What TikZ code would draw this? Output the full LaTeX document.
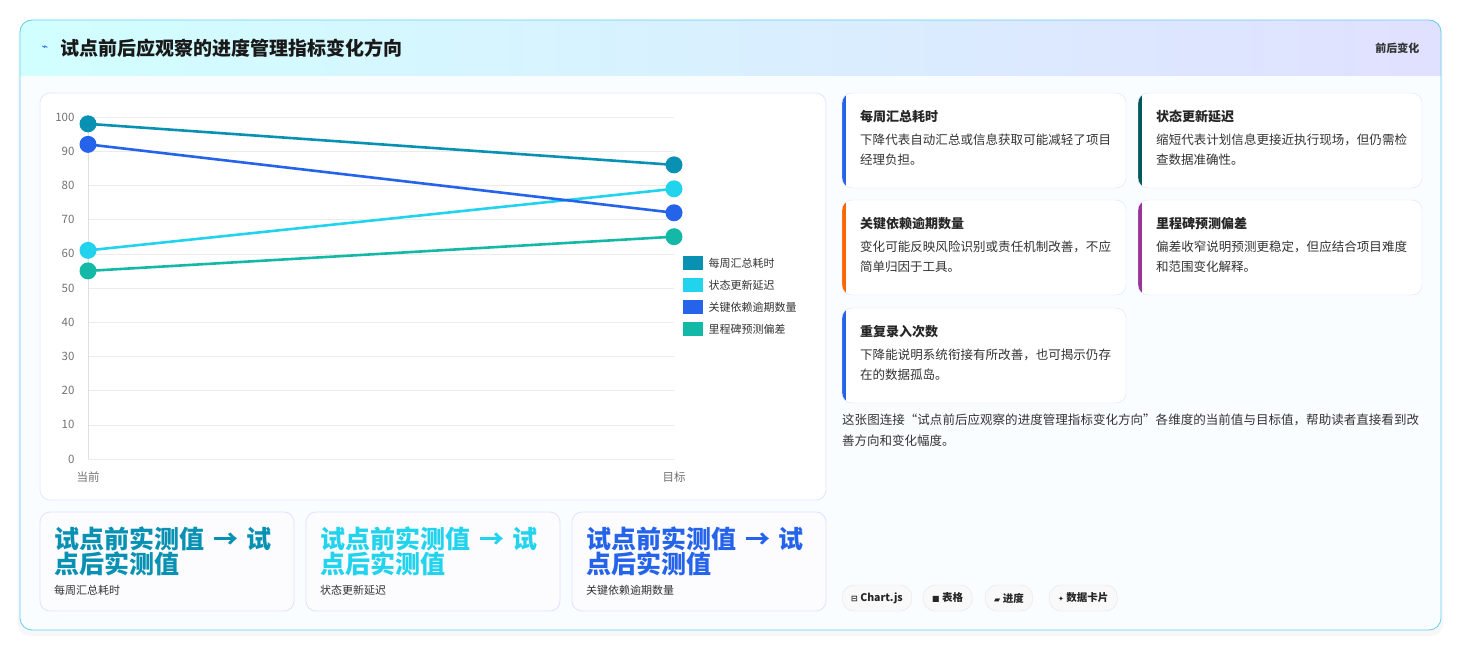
\documentclass[tikz,border=0pt]{standalone}
\usepackage{fontspec}
\setmainfont{Noto Sans CJK SC}
\newfontfamily\sym{DejaVu Sans}
\XeTeXlinebreaklocale "zh"
\XeTeXlinebreakskip=0pt plus 1pt
\begin{document}
\begin{tikzpicture}[x=1pt,y=-1pt,
 card/.style={draw=#1,line width=0.8pt,rounded corners=10pt,fill=white},
 ct/.style={anchor=north west,font=\bfseries\fontsize{13}{16}\selectfont,text=black!85,inner sep=0pt},
 cb/.style={anchor=north west,font=\fontsize{12.5}{20}\selectfont,text=black!80,text width=252pt,align=left,inner sep=0pt},
 ax/.style={font=\fontsize{11.5}{13}\selectfont,text=gray!90!black},
 leg/.style={anchor=west,font=\fontsize{11}{13}\selectfont,text=gray!40!black},
 big/.style={anchor=north west,font=\bfseries\fontsize{25}{25}\selectfont,text width=225pt,align=left,inner sep=0pt},
 sub/.style={anchor=north west,font=\fontsize{11}{13}\selectfont,text=gray!40!black,inner sep=0pt},
 pill/.style={draw=gray!20,fill=gray!5,rounded corners=12pt,minimum height=26pt,inner xsep=9pt,font=\bfseries\fontsize{10.5}{12}\selectfont,text=gray!30!black}]
\definecolor{c1}{HTML}{0891B2}\definecolor{c2}{HTML}{22D3EE}\definecolor{c3}{HTML}{2563EB}\definecolor{c4}{HTML}{14B8A6}
\useasboundingbox (0,0) rectangle (1462,652);
\fill[white] (0,0) rectangle (1462,652);
\fill[gray!6,rounded corners=12pt] (18,24) rectangle (1443,636);
\begin{scope}
\clip[rounded corners=12pt] (20,20) rectangle (1441,630);
\fill[left color=cyan!18,right color=blue!12] (20,20) rectangle (1441,76);
\fill[cyan!2] (20,76) rectangle (1441,630);
\end{scope}
\draw[cyan!60,line width=0.8pt,rounded corners=12pt] (20,20) rectangle (1441,630);
\node[anchor=west,font=\sym\fontsize{11}{11}\selectfont,text=c3] (ic) at (38,48) {⌁};
\node[anchor=west,font=\bfseries\fontsize{19}{20}\selectfont,text=black!90] (title) at (57,48) {试点前后应观察的进度管理指标变化方向};
\node[anchor=east,font=\bfseries\fontsize{11}{13}\selectfont,text=gray!40!black] (tag) at (1423,48) {前后变化};
% chart panel
\draw[card=blue!10] (40,93) rectangle (826,500);
\foreach \v in {0,10,...,100}{
 \draw[gray!15] (88,{459-3.42*\v}) -- (674,{459-3.42*\v});
 \node[ax,anchor=east] (yl\v) at (78,{459-3.42*\v}) {\v};}
\draw[gray!25] (88,117) -- (88,459);
\node[ax] (xa) at (88,477) {当前};
\node[ax] (xb) at (674,477) {目标};
\foreach \n/\a/\b/\c in {p1/98/86/c1,p2/61/79/c2,p3/92/72/c3,p4/55/65/c4}{
 \coordinate (\n a) at (88,{459-3.42*\a});
 \coordinate (\n b) at (674,{459-3.42*\b});
 \draw[\c,line width=2.6pt] (\n a) -- (\n b);
 \fill[\c] (\n a) circle (8.5);
 \fill[\c] (\n b) circle (8.5);}
\foreach \c/\t/\yy in {c1/每周汇总耗时/263,c2/状态更新延迟/285,c3/关键依赖逾期数量/307,c4/里程碑预测偏差/329}{
 \fill[\c] (683,{\yy-7}) rectangle (703,{\yy+7});
 \node[leg] at (705,\yy) {\t};}
% right cards
\foreach \x/\y/\c/\t/\b in {
 842/93/c3/每周汇总耗时/下降代表自动汇总或信息获取可能减轻了项目经理负担。,
 1138/93/teal!70!black/状态更新延迟/缩短代表计划信息更接近执行现场，但仍需检查数据准确性。,
 842/200/orange!80!red/关键依赖逾期数量/变化可能反映风险识别或责任机制改善，不应简单归因于工具。,
 1138/200/violet!80/里程碑预测偏差/偏差收窄说明预测更稳定，但应结合项目难度和范围变化解释。,
 842/308/c3/重复录入次数/下降能说明系统衔接有所改善，也可揭示仍存在的数据孤岛。}{
 \begin{scope}
 \clip[rounded corners=10pt] (\x,\y) rectangle ({\x+284},{\y+95});
 \fill[white] (\x,\y) rectangle ({\x+284},{\y+95});
 \fill[\c] (\x,\y) rectangle ({\x+3.5},{\y+95});
 \end{scope}
 \draw[blue!12,rounded corners=10pt] (\x,\y) rectangle ({\x+284},{\y+95});
 \node[ct] at ({\x+18},{\y+17}) {\t};
 \node[cb] at ({\x+18},{\y+41}) {\b};}
\node[anchor=north west,text width=578pt,align=left,inner sep=0pt,font=\fontsize{12.5}{21}\selectfont,text=gray!40!black] (note) at (842,414) {这张图连接“试点前后应观察的进度管理指标变化方向”各维度的当前值与目标值，帮助读者直接看到改善方向和变化幅度。};
% tiles
\foreach \x/\c/\s in {40/c1/每周汇总耗时,306/c2/状态更新延迟,572/c3/关键依赖逾期数量}{
 \draw[card=blue!12,fill=blue!1] (\x,512) rectangle ({\x+254},611);
 \node[big,text=\c] at ({\x+14},527) {试点前实测值 → 试点后实测值};
 \node[sub] at ({\x+14},585) {\s};}
% pills
\node[pill,anchor=west] (q1) at (842,598) {{\sym\fontsize{8}{8}\selectfont ⊟} Chart.js};
\node[pill,anchor=west] (q2) at (923,598) {{\sym\fontsize{8}{8}\selectfont ■} 表格};
\node[pill,anchor=west] (q3) at (985,598) {{\sym\fontsize{8}{8}\selectfont ▰} 进度};
\node[pill,anchor=west] (q4) at (1049,598) {{\sym\fontsize{7}{8}\selectfont ✦} 数据卡片};
\end{tikzpicture}
\end{document}
